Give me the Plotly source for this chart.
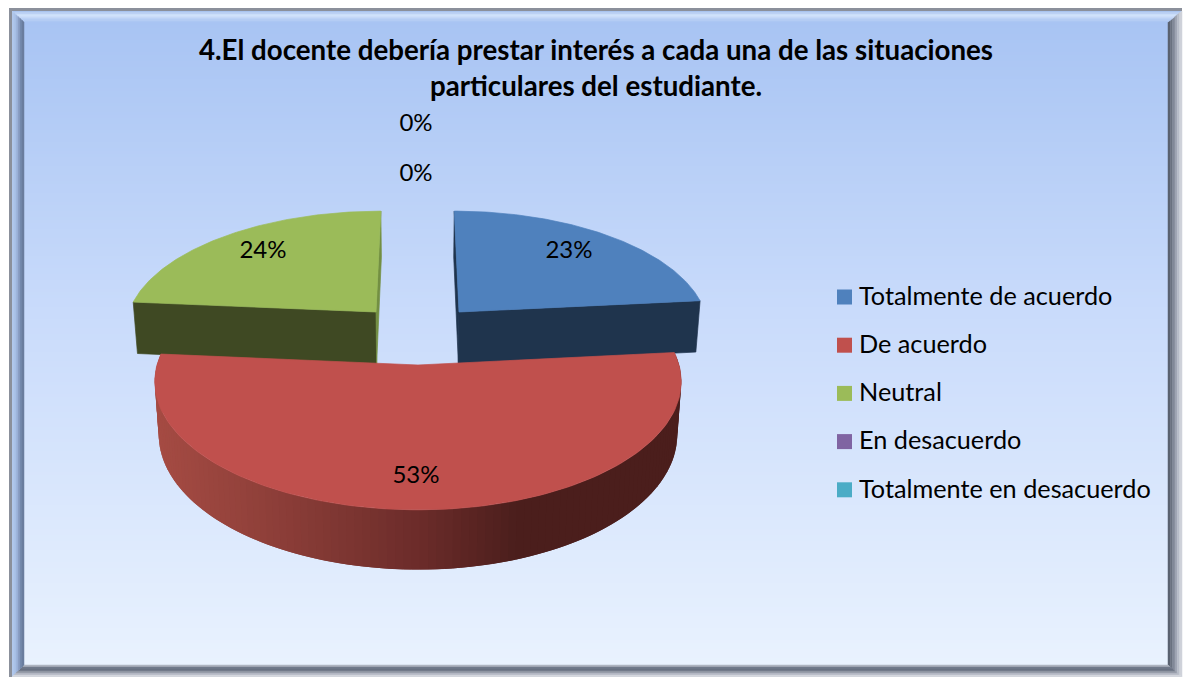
import math
import plotly.graph_objects as go

# ---------- data ----------
categories = ["Totalmente de acuerdo", "De acuerdo", "Neutral", "En desacuerdo", "Totalmente en desacuerdo"]
shares = [23.4, 53.0, 23.6, 0, 0]
title_lines = ["4.El docente debería prestar interés a cada una de las situaciones",
               "particulares del estudiante."]

# ---------- styles ----------
top_colors = ["#4f81bd", "#c0504d", "#9bbb59", "#8064a2", "#4bacc6"]
wall_colors = ["#1f344d", None, "#3f4923", None, None]
sliver_colors = ["#1f344d", None, "#738f42", None, None]
FONT = "Lato"
W, H = 1185, 677
CX = 418          # common vanishing axis of the pie
K = 0.13          # perspective strength
DEPTH = 52        # wall height
SHRINK = 0.985    # bottom rim shrink
# per-slice layout: apex x offset, apex y, horizontal and depth radius
LAYOUT = {0: (41, 312, 246, 114), 1: (0, 365, 261, 126), 2: (-42, 312, 247, 114)}
LABEL_POS = [(569, 252), (416, 477), (263, 252), (416, 175), (416, 125)]


def project(i, theta, radius=1.0):
    ox, ay, b, a = LAYOUT[i]
    X, Z = radius * math.sin(theta), radius * math.cos(theta)
    d = 1 + K * Z
    return CX + (ox + b * X) / d, ay - a * Z / d, Z


def lower(pt):
    x, y, Z = pt
    return CX + (x - CX) * SHRINK, y + DEPTH / (1 + K * Z)


def poly(xs, ys, color, lw=0.7):
    return go.Scatter(x=xs, y=ys, mode="lines", fill="toself", fillcolor=color,
                      line=dict(color=color, width=lw), hoverinfo="skip", showlegend=False)


def mix(c1, c2, t):
    a = [int(c1[j:j + 2], 16) for j in (1, 3, 5)]
    b = [int(c2[j:j + 2], 16) for j in (1, 3, 5)]
    return "#%02x%02x%02x" % tuple(round(p + (q - p) * t) for p, q in zip(a, b))


def red_wall_color(u):
    stops = [(-1.0, "#a54b43"), (-0.6, "#90403a"), (0.0, "#6c2c2a"), (0.38, "#4b1e1c"), (1.0, "#4b1e1c")]
    for (u0, c0), (u1, c1) in zip(stops, stops[1:]):
        if u <= u1:
            return mix(c0, c1, max(0, (u - u0) / (u1 - u0)))
    return stops[-1][1]


fig = go.Figure()

# background gradient (cell edges given so it stays inside the frame)
edges = list(range(22, 668, 3))
mids = [(a + b) / 2 for a, b in zip(edges, edges[1:])]
fig.add_trace(go.Heatmap(x=[22, 1170], y=edges, z=[[m] for m in mids], zmin=22, zmax=667,
                         colorscale=[[0, "#a8c4f3"], [0.45, "#c9dbfb"], [1, "#e9f2fe"]],
                         showscale=False, hoverinfo="skip"))

# slices
angles = []
acc = 0
for s in shares:
    angles.append((acc / 100 * 2 * math.pi, (acc + s) / 100 * 2 * math.pi))
    acc += s

for i in [0, 2, 1]:
    t0, t1 = angles[i]
    n = 120
    thetas = [t0 + (t1 - t0) * j / n for j in range(n + 1)]
    rim = [project(i, t) for t in thetas]
    apex = project(i, 0, 0.0)
    if i == 1:
        # curved front wall, shaded; each piece overlaps the next to hide seams
        for j in range(n):
            seg = rim[j:min(j + 3, n + 1)]
            low = [lower(p) for p in seg]
            u = ((seg[0][0] + seg[1][0]) / 2 - CX) / 262
            fig.add_trace(poly([p[0] for p in seg] + [p[0] for p in reversed(low)] + [seg[0][0]],
                               [p[1] for p in seg] + [p[1] for p in reversed(low)] + [seg[0][1]],
                               red_wall_color(u), lw=0))
    else:
        # the two radial faces of the exploded slices
        ends = [(rim[0], sliver_colors[i] if i == 0 else wall_colors[i]),
                (rim[-1], wall_colors[i] if i == 0 else sliver_colors[i])]
        for end, col in ends:
            al, el = lower(apex), lower(end)
            fig.add_trace(poly([apex[0], end[0], el[0], al[0], apex[0]],
                               [apex[1], end[1], el[1], al[1], apex[1]], col))
    fig.add_trace(poly([apex[0]] + [p[0] for p in rim] + [apex[0]],
                       [apex[1]] + [p[1] for p in rim] + [apex[1]], top_colors[i]))

# percentage labels
fig.add_trace(go.Scatter(x=[p[0] for p in LABEL_POS], y=[p[1] for p in LABEL_POS], mode="text",
                         text=[f"{round(s)}%" for s in shares], textposition="middle center",
                         textfont=dict(family=FONT, size=24, color="#000000"),
                         hoverinfo="skip", showlegend=False))

# legend
leg_y = [297 + 48.2 * k for k in range(len(categories))]
fig.add_trace(go.Scatter(x=[844.5] * 5, y=leg_y, mode="markers",
                         marker=dict(symbol="square", size=15, color=top_colors, line=dict(width=0)),
                         hoverinfo="skip", showlegend=False))
fig.add_trace(go.Scatter(x=[859] * 5, y=[y + 1.5 for y in leg_y], mode="text", text=categories,
                         textposition="middle right",
                         textfont=dict(family=FONT, size=25.25, color="#000000"),
                         hoverinfo="skip", showlegend=False))

# frame
shapes = []


def band(x0, y0, x1, y1, x2, y2, x3, y3, color):
    shapes.append(dict(type="path", xref="x", yref="y", layer="above",
                       path=f"M{x0},{y0}L{x1},{y1}L{x2},{y2}L{x3},{y3}Z",
                       fillcolor=color, line=dict(width=0.5, color=color)))


OL, OT, OR, OB = 12, 11, 1182, 677
IL, IT, IR, IB = 24, 22, 1168, 665
top_cols = ["#a9c4ef", "#bcd2f5", "#d0e2fb", "#c6d9f8", "#b7cef5", "#acc7f3"]
left_cols = ["#b1c8ec", "#abc2e8", "#9fb5dc", "#8a9fc4", "#7489ac", "#6b7e9f"]
right_cols = ["#5a6270", "#6a7280", "#828998", "#9ea4b2", "#b7bcc8", "#cfd2da"]
bot_cols = ["#aeb4c0", "#70798a", "#6a7282", "#8e95a3", "#b2b7c2", "#d3d6dd"]
N = 6
lerp = lambda o, i, t: o + (i - o) * t
for k in range(N):
    a, b = k / N, (k + 1) / N
    band(lerp(OL, IL, a), lerp(OT, IT, a), lerp(OR, IR, a), lerp(OT, IT, a),
         lerp(OR, IR, b), lerp(OT, IT, b), lerp(OL, IL, b), lerp(OT, IT, b), top_cols[k])
    band(lerp(OL, IL, a), lerp(OT, IT, a), lerp(OL, IL, b), lerp(OT, IT, b),
         lerp(OL, IL, b), lerp(OB, IB, b), lerp(OL, IL, a), lerp(OB, IB, a), left_cols[k])
    band(lerp(IR, OR, a), lerp(IT, OT, a), lerp(IR, OR, b), lerp(IT, OT, b),
         lerp(IR, OR, b), lerp(IB, OB, b), lerp(IR, OR, a), lerp(IB, OB, a), right_cols[k])
    band(lerp(IL, OL, a), lerp(IB, OB, a), lerp(IR, OR, a), lerp(IB, OB, a),
         lerp(IR, OR, b), lerp(IB, OB, b), lerp(IL, OL, b), lerp(IB, OB, b), bot_cols[k])
# outer grey line
shapes.append(dict(type="path", xref="x", yref="y", layer="above",
                   path=f"M10.5,677 L10.5,9.5 L{OR},9.5", fillcolor="rgba(0,0,0,0)",
                   line=dict(width=3, color="#8b909b")))

fig.update_layout(
    width=W, height=H, margin=dict(l=0, r=0, t=0, b=0),
    paper_bgcolor="#ffffff", plot_bgcolor="#ffffff",
    xaxis=dict(range=[0, W], visible=False, fixedrange=True),
    yaxis=dict(range=[H, 0], visible=False, fixedrange=True),
    shapes=shapes, showlegend=False,
    title=dict(text="<br>".join(f"<b>{t}</b>" for t in title_lines), x=596 / W, xanchor="center",
               y=1 - 59.5 / H, yref="paper", yanchor="middle",
               font=dict(family=FONT, size=27.7, color="#000000")),
)
fig.write_html("out.html", config=dict(displayModeBar=False),
               post_script="document.body.style.margin='0';")
